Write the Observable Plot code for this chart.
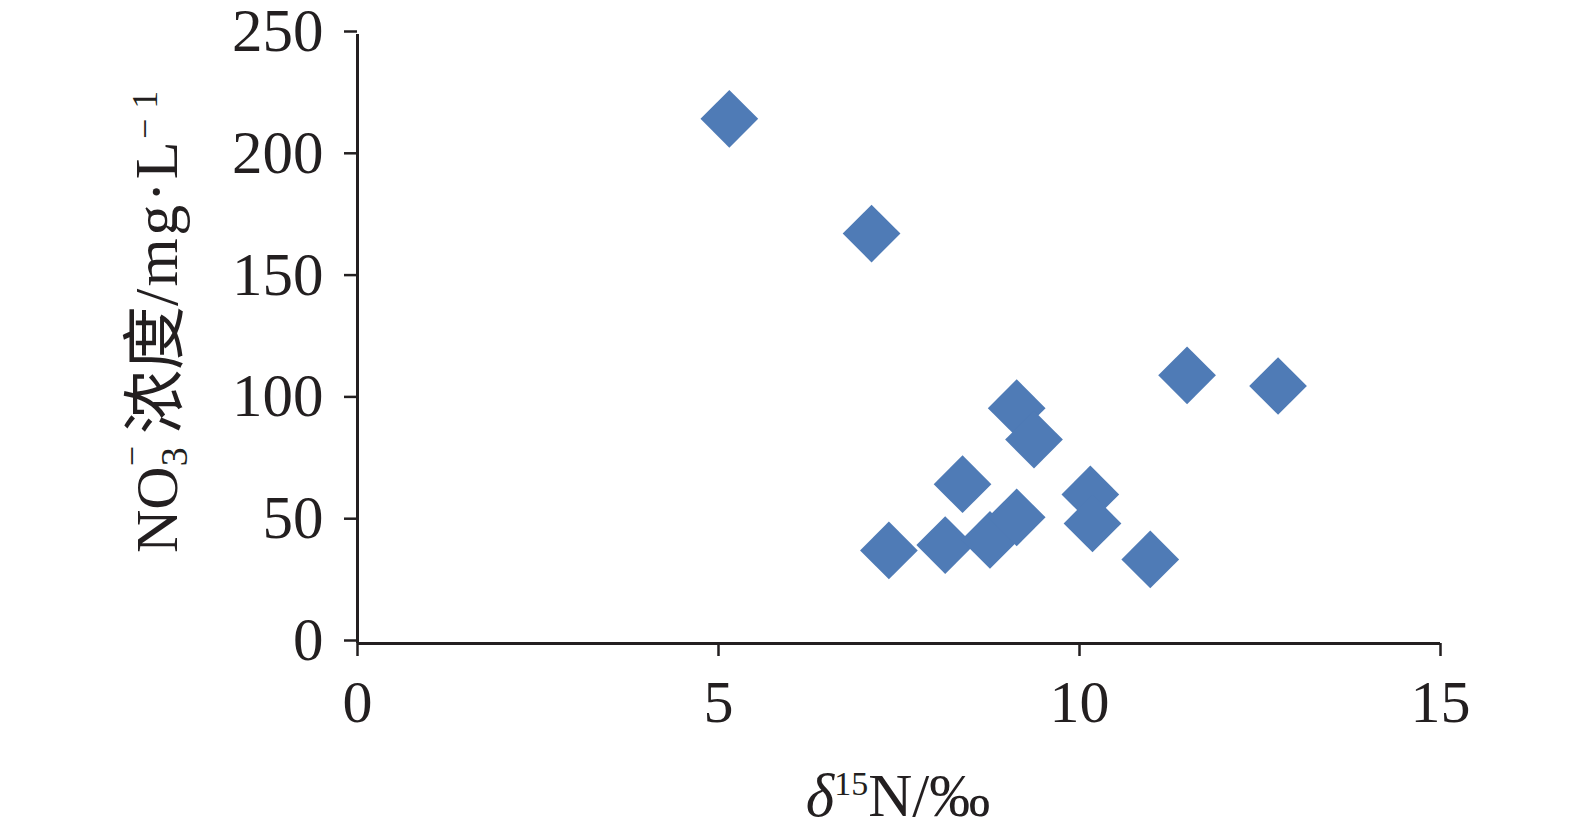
<!DOCTYPE html>
<html>
<head>
<meta charset="utf-8">
<script src="https://cdn.jsdelivr.net/npm/d3@7"></script>
<script src="https://cdn.jsdelivr.net/npm/@observablehq/plot@0.6"></script>
<style>
  html, body { margin: 0; padding: 0; background: #fff; }
  #chart svg { display: block; }
</style>
</head>
<body>
<div id="chart"></div>
<script>
// δ15N (‰) values
const d15N = [5.15, 7.12, 11.49, 12.75, 9.13, 9.37, 8.38, 10.15, 10.18, 7.36, 8.14, 8.76, 9.13, 10.98];
// NO3- concentration (mg·L-1)
const no3  = [215.4, 168.3, 110.1, 105.7, 96.6, 83.7, 65.4, 61.2, 49.3, 38.2, 40.4, 42.5, 51.8, 34.5];
const xTicks = [0, 5, 10, 15];
const yTicks = [0, 50, 100, 150, 200, 250];

const data = d15N.map((x, i) => ({x, y: no3[i]}));

const ink = "#231f20";
const font = "'Liberation Serif', 'Times New Roman', serif";

const svg = Plot.plot({
  width: 1575,
  height: 834,
  marginLeft: 357,
  marginRight: 135,
  marginTop: 34,
  marginBottom: 191,
  style: {fontFamily: font, fontSize: "60px", color: ink, background: "#fff", overflow: "visible"},
  x: {domain: [0, 15], ticks: xTicks, label: null},
  y: {domain: [0, 250], ticks: yTicks, label: null},
  marks: [
    Plot.axisX({ticks: xTicks, tickSize: 13, tickPadding: 23, strokeWidth: 2.5, stroke: ink, fill: ink, fontSize: 60, label: null}),
    Plot.axisY({ticks: yTicks, tickSize: 13, tickPadding: 21, strokeWidth: 2.5, stroke: ink, fill: ink, fontSize: 61, dy: -3, label: null}),
    Plot.ruleY([0], {x1: 0, x2: 15, stroke: ink, strokeWidth: 3}),
    Plot.ruleX([0], {y1: 0, y2: 250, stroke: ink, strokeWidth: 3}),
    Plot.dot(data, {x: "x", y: "y", symbol: "diamond2", r: 26, fill: "#4f7bb6", stroke: "none"})
  ]
});

document.getElementById("chart").appendChild(svg);

const s = d3.select(svg);

// X axis title: δ15N/‰
const xt = s.append("text")
  .attr("x", 898).attr("y", 816)
  .attr("text-anchor", "middle")
  .attr("fill", ink)
  .style("font-family", font)
  .style("font-size", "61px");
xt.append("tspan").attr("font-style", "italic").text("δ");
xt.append("tspan").attr("font-size", "34px").attr("dy", -21).text("15");
xt.append("tspan").attr("dy", 21).text("N/‰");

// Y axis title: NO3- 浓度/mg·L-1
const yt = s.append("text")
  .attr("transform", "translate(177,553) rotate(-90)")
  .attr("text-anchor", "start")
  .attr("fill", ink)
  .style("font-family", font + ", 'Noto Sans CJK SC'")
  .style("font-size", "60px");
yt.append("tspan").text("NO");
yt.append("tspan").attr("font-size", "38px").attr("dy", 10).text("3");
yt.append("tspan").attr("font-size", "36px").attr("dx", -19).attr("dy", -43).text("−");
yt.append("tspan").attr("dy", 33).attr("dx", 12).attr("font-size", "64px").text("浓度");
yt.append("tspan").attr("font-size", "62px").attr("letter-spacing", "2.4px").text("/mg·L");
yt.append("tspan").attr("font-size", "36px").attr("dy", -20).text("−");
yt.append("tspan").attr("font-size", "36px").attr("dx", 10).text("1");
</script>
</body>
</html>
